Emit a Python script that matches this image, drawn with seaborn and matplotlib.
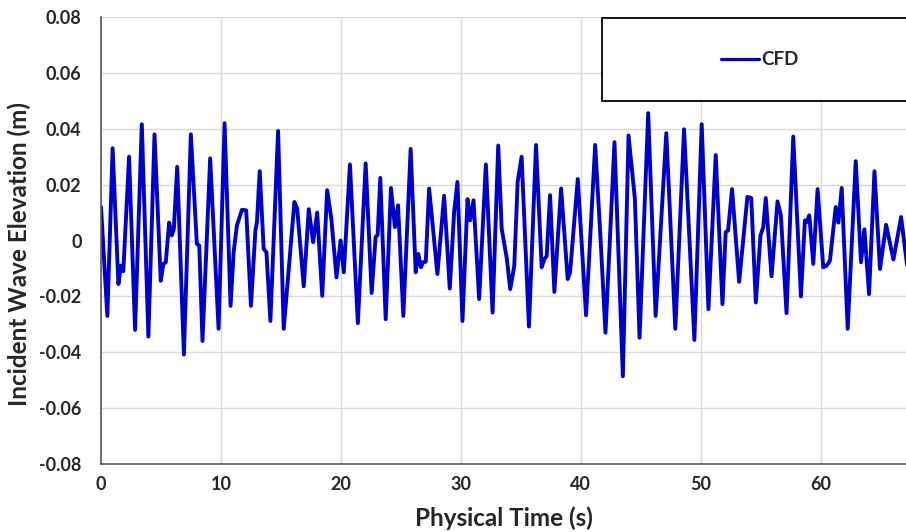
"""
Incident wave elevation time history (CFD) recreated with seaborn.
"""
import pandas as pd
import matplotlib
matplotlib.use("Agg")
import matplotlib.pyplot as plt
import seaborn as sns
from matplotlib.patches import Rectangle

# Values
time_s = [
    0.0, 0.53, 0.97, 1.45, 1.67, 1.86, 2.34, 2.84, 3.40, 3.95,
    4.46, 4.98, 5.2, 5.4, 5.68, 5.9, 6.07, 6.35, 6.91, 7.49,
    7.99, 8.19, 8.46, 9.1, 9.8, 10.3, 10.8, 11.06, 11.33, 11.75,
    12.1, 12.5, 12.87, 13.0, 13.23, 13.56, 13.79, 14.12, 14.76, 15.23,
    16.12, 16.35, 16.9, 17.32, 17.68, 18.02, 18.44, 18.85, 19.2, 19.63,
    19.97, 20.24, 20.75, 21.41, 22.06, 22.56, 22.89, 23.06, 23.28, 23.73,
    24.17, 24.5, 24.76, 25.2, 25.81, 26.23, 26.45, 26.67, 26.84, 27.07,
    27.35, 28.04, 28.6, 29.07, 29.44, 29.71, 30.13, 30.55, 30.77, 31.05,
    31.52, 32.08, 32.64, 33.11, 33.4, 33.83, 34.11, 34.45, 34.73, 35.06,
    35.67, 36.26, 36.73, 36.96, 37.15, 37.43, 37.79, 38.35, 38.9, 39.1,
    39.74, 40.43, 41.19, 41.64, 42.05, 42.8, 43.5, 43.97, 44.5, 44.89,
    45.61, 46.23, 47.12, 47.87, 48.6, 49.46, 50.07, 50.63, 51.24, 51.8,
    52.07, 52.27, 52.6, 53.19, 53.88, 54.2, 54.58, 54.97, 55.2, 55.41,
    55.89, 56.39, 56.67, 57.14, 57.7, 58.34, 58.67, 58.84, 59.04, 59.37,
    59.73, 60.2, 60.49, 60.76, 61.24, 61.46, 61.74, 62.24, 62.91, 63.35,
    63.63, 64.02, 64.47, 64.93, 65.44, 66.05, 66.69, 67.25,
]
elevation_m = [
    0.012, -0.027, 0.033, -0.0156, -0.009, -0.011, 0.030, -0.032, 0.0416, -0.0344,
    0.038, -0.0144, -0.0084, -0.0078, 0.0064, 0.0018, 0.004, 0.0264, -0.0408, 0.038,
    -0.0012, -0.0018, -0.036, 0.0294, -0.0316, 0.042, -0.0234, -0.004, 0.0054, 0.011,
    0.0108, -0.0234, 0.0036, 0.0066, 0.0248, -0.003, -0.0042, -0.0288, 0.0392, -0.0316,
    0.0138, 0.0114, -0.0164, 0.0112, -0.0006, 0.010, -0.0198, 0.018, 0.0078, -0.0132,
    0.0, -0.0114, 0.0272, -0.0296, 0.0276, -0.0188, 0.0012, 0.002, 0.0224, -0.0282,
    0.0188, 0.0048, 0.0126, -0.027, 0.0328, -0.0114, -0.0048, -0.0096, -0.0078, -0.0076,
    0.0186, -0.012, 0.016, -0.0172, 0.0104, 0.021, -0.0288, 0.0148, 0.0072, 0.0144,
    -0.021, 0.0272, -0.0258, 0.034, 0.0042, -0.0066, -0.0174, -0.009, 0.021, 0.030,
    -0.0308, 0.0342, -0.0096, -0.0066, -0.0056, 0.0162, -0.0184, 0.0186, -0.0138, -0.0114,
    0.022, -0.0268, 0.0342, 0.0006, -0.033, 0.0352, -0.0486, 0.0376, 0.015, -0.0348,
    0.0456, -0.027, 0.0384, -0.0316, 0.0398, -0.0356, 0.0416, -0.0246, 0.0306, -0.0228,
    0.003, 0.0036, 0.0184, -0.0148, 0.0156, 0.0152, -0.0222, 0.0018, 0.0048, 0.0152,
    -0.0128, 0.014, 0.009, -0.026, 0.0372, -0.020, 0.0072, 0.0066, 0.009, -0.0084,
    0.0184, -0.0096, -0.009, -0.0072, 0.012, 0.0064, 0.0188, -0.0316, 0.0284, -0.0078,
    0.004, -0.0192, 0.0248, -0.0102, 0.0056, -0.0068, 0.0084, -0.011,
]
x_ticks = [0, 10, 20, 30, 40, 50, 60]
y_ticks = [-0.08, -0.06, -0.04, -0.02, 0, 0.02, 0.04, 0.06, 0.08]
y_tick_labels = ["-0.08", "-0.06", "-0.04", "-0.02", "0", "0.02", "0.04", "0.06", "0.08"]

sns.set_style("white")
plt.rcParams['font.family'] = ['Lato', 'DejaVu Sans']

df = pd.DataFrame({"time": time_s, "elev": elevation_m})

fig = plt.figure(figsize=(9.06, 5.32), dpi=100)
ax = fig.add_axes([101 / 906, 1 - 464 / 532, 1 - 101 / 906 + 0.002, (464 - 17) / 532])

# Main wave trace
sns.lineplot(data=df, x="time", y="elev", ax=ax, sort=False, estimator=None,
             color="#0000CD", linewidth=2.8, label="CFD")
for line in ax.get_lines():
    line.set_solid_joinstyle("round")

ax.set_xlim(0, 67.25)
ax.set_ylim(-0.08, 0.08)
ax.set_xticks(x_ticks)
ax.set_yticks(y_ticks)
ax.set_yticklabels(y_tick_labels)
ax.grid(True, color="#d9d9d9", linewidth=1)
ax.set_axisbelow(True)

for side in ["top", "right"]:
    ax.spines[side].set_visible(False)
for side in ["left", "bottom"]:
    ax.spines[side].set_color("#595959")
    ax.spines[side].set_linewidth(1.2)

ax.tick_params(axis="x", length=0, pad=9, labelsize=13)
ax.tick_params(axis="y", length=0, pad=14, labelsize=13)
for lbl in ax.get_xticklabels() + ax.get_yticklabels():
    lbl.set_fontweight("bold")

ax.set_xlabel("Physical Time (s)", fontsize=17.5, fontweight="bold", labelpad=9)
ax.set_ylabel("Incident Wave Elevation (m)", fontsize=17.5, fontweight="bold")
ax.yaxis.set_label_coords(-0.087, 0.47)

# Legend inside a box that runs off the right edge
box = Rectangle((601.7 / 906, 1 - 100.7 / 532), 0.36, (100.7 - 18.3) / 532,
                transform=fig.transFigure, facecolor="white", edgecolor="black",
                linewidth=1.3, zorder=5, clip_on=False)
ax.add_patch(box)
leg = ax.legend(loc="center", bbox_to_anchor=(760 / 906, 1 - 60 / 532),
                bbox_transform=fig.transFigure, frameon=False, handlelength=2.0,
                handletextpad=0.15, prop={"weight": "bold", "size": 13.5})
leg.set_zorder(10)
for txt in leg.get_texts():
    txt.set_fontweight("bold")
for handle in leg.get_lines():
    handle.set_linewidth(2.3)

fig.savefig("out.png", dpi=100)
plt.close(fig)
